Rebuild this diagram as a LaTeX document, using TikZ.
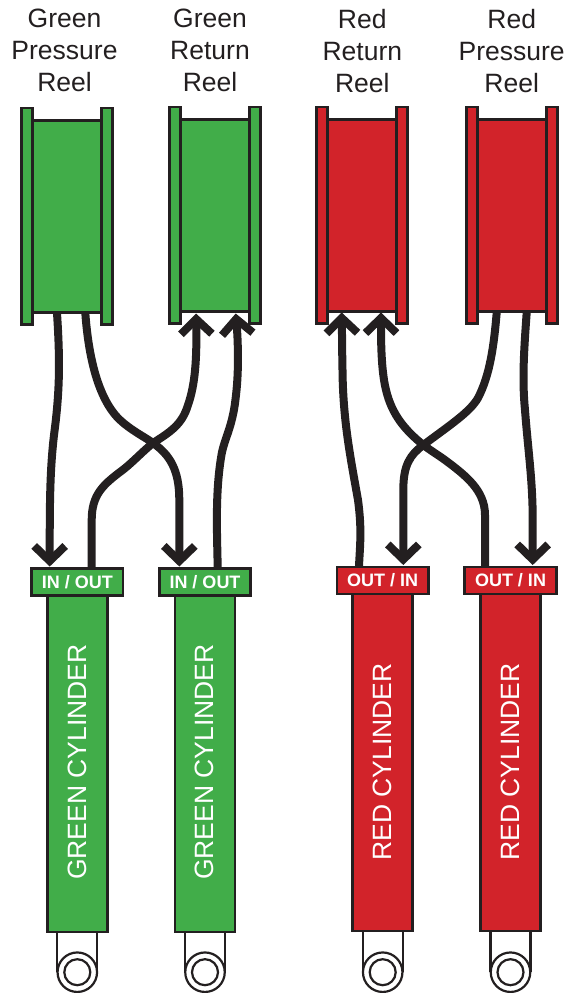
\documentclass[tikz,border=0pt]{standalone}
\usepackage{fontspec}
\setmainfont{Liberation Sans}
\usetikzlibrary{arrows.meta,calc}
\definecolor{gfill}{HTML}{41AD49}
\definecolor{rfill}{HTML}{D2232A}
\definecolor{ink}{HTML}{231F20}
\tikzset{
  part/.style={draw=ink,line width=2.8pt,inner sep=0pt,outer sep=0pt,rectangle},
  flange/.style={part,minimum width=11.2pt,minimum height=216.6pt},
  drum/.style={part,minimum width=68.6pt,minimum height=191.7pt},
  tag/.style={part,minimum width=91.5pt,minimum height=27pt,text=white,font=\bfseries\fontsize{18}{18}\selectfont},
  barrel/.style={part,minimum width=60pt,anchor=north},
  barreltext/.style={text=white,rotate=90,inner sep=0pt,font=\fontsize{26.5}{26.5}\selectfont},
  reellabel/.style={text=ink,align=center,inner sep=0pt,anchor=north,font=\fontsize{26.5}{32}\selectfont},
  wire/.style={draw=ink,line width=8pt,line join=round},
  arrowwire/.style={wire,-{Straight Barb[length=15pt,width=31pt]}},
  lug/.style={draw=ink,line width=2.2pt},
  ring/.style={draw=ink,line width=2.2pt,fill=white,circle,inner sep=0pt,outer sep=0pt}
}
\newcommand{\reelpart}[4]{%
  \node[flange,fill=#4] (#1fl) at (#2-40,#3) {};
  \node[flange,fill=#4] (#1fr) at (#2+40,#3) {};
  \node[drum,fill=#4] (#1) at (#2,#3) {};
}
\newcommand{\cylpart}[5]{%
  \node[barrel,fill=#4,minimum height=#3pt] (#1b) at (#2,#5) {};
  \coordinate (#1la) at (#2-20,931);
  \coordinate (#1lb) at (#2+20,931);
  \draw[lug] (#1la) -- ++(0,41);
  \draw[lug] (#1lb) -- ++(0,41);
  \node[ring,minimum size=39.5pt] (#1ro) at (#2,972.2) {};
  \node[ring,minimum size=26pt] (#1ri) at (#2,972.2) {};
}
\begin{document}
\begin{tikzpicture}[x=1pt,y=-1pt]
\useasboundingbox (0,0) rectangle (569,993);
\node[reellabel] (t1) at (64.5,9) {Green\\Pressure\\Reel};
\node[reellabel] (t2) at (210,9) {Green\\Return\\Reel};
\node[reellabel] (t3) at (362.3,9) {Red\\Return\\Reel};
\node[reellabel] (t4) at (511.7,9) {Red\\Pressure\\Reel};
\reelpart{ra}{66.8}{216.3}{gfill}
\reelpart{rb}{214.7}{215.3}{gfill}
\reelpart{rc}{362}{215.3}{rfill}
\reelpart{rd}{512}{215.3}{rfill}
\cylpart{ca}{77.3}{336.5}{gfill}{595.5}
\cylpart{cb}{205}{336.5}{gfill}{595.5}
\cylpart{cc}{382.7}{337}{rfill}{594}
\cylpart{cd}{510.5}{337}{rfill}{594}
\node[tag,fill=gfill] (ta) at (77.3,582) {IN / OUT};
\node[tag,fill=gfill] (tb) at (205,582) {IN / OUT};
\node[tag,fill=rfill] (tc) at (382.7,580.5) {OUT / IN};
\node[tag,fill=rfill] (td) at (510.5,580.5) {OUT / IN};
\node[barreltext] at (77,762) {GREEN CYLINDER};
\node[barreltext] at (204.5,762) {GREEN CYLINDER};
\node[barreltext] at (382.5,762) {RED CYLINDER};
\node[barreltext] at (510,762) {RED CYLINDER};
\coordinate (a1) at (57,313);
\coordinate (a2) at (85.3,313);
\coordinate (b1) at (196,313.5);
\coordinate (b2) at (235.7,313.5);
\coordinate (c1) at (341.7,312.5);
\coordinate (c2) at (381,312.5);
\coordinate (d1) at (496.7,312.5);
\coordinate (d2) at (526.7,312.5);
\coordinate (e1) at (49.7,566.5);
\coordinate (e2) at (91.7,568);
\coordinate (f1) at (179.3,566.5);
\coordinate (f2) at (217.7,568);
\coordinate (g1) at (359,566);
\coordinate (g2) at (403.3,565);
\coordinate (h1) at (485,566);
\coordinate (h2) at (532.7,565);
\draw[arrowwire] (a1) .. controls (60,360) and (60,390) .. (54,435) .. controls (50,470) and (49.7,500) .. (e1);
\draw[arrowwire] (a2) .. controls (88,350) and (96,395) .. (118,418) .. controls (130,430) and (145,437) .. (153,443) .. controls (170,455) and (179.3,470) .. (179.3,500) -- (f1);
\draw[arrowwire] (e2) -- (91.7,520) .. controls (91.7,495) and (103,485) .. (120,472) .. controls (130,465) and (142,452) .. (153,443) .. controls (170,432) and (182,425) .. (188,405) .. controls (195,385) and (197,360) .. (b1);
\draw[arrowwire] (f2) .. controls (217,530) and (215,490) .. (222,452) .. controls (226,435) and (233,425) .. (236,395) .. controls (239,370) and (238,340) .. (b2);
\draw[arrowwire] (g1) .. controls (360,545) and (362,530) .. (358,500) .. controls (350,455) and (343,420) .. (342.5,370) .. controls (342,345) and (342,330) .. (c1);
\draw[arrowwire] (h1) -- (485,515) .. controls (485,490) and (465,475) .. (445,460) .. controls (438,455) and (430,450) .. (423.3,445) .. controls (405,430) and (392,415) .. (386,390) .. controls (381,370) and (381,340) .. (c2);
\draw[arrowwire] (d1) .. controls (494,345) and (490,375) .. (478,398) .. controls (470,412) and (450,425) .. (423.3,445) .. controls (410,455) and (403.3,465) .. (403.3,490) -- (g2);
\draw[arrowwire] (d2) .. controls (524,350) and (522,380) .. (525,410) .. controls (528,450) and (532.7,480) .. (532.7,520) -- (h2);
\end{tikzpicture}
\end{document}
